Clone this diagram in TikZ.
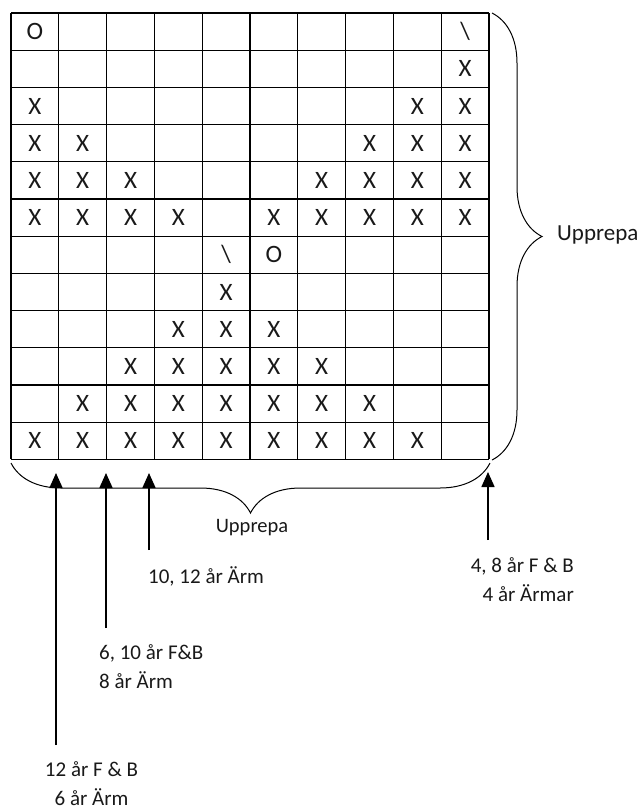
\documentclass[tikz,border=0pt]{standalone}
\usepackage{fontspec}
\setmainfont{Carlito}
\usepackage{tikz}
\usetikzlibrary{arrows.meta, decorations.pathreplacing}

\begin{document}
\begin{tikzpicture}[
    x=1pt, y=-1pt,
    gridline/.style={line width=1.3pt, color=black},
    cell/.style={inner sep=0pt, font=\fontsize{25}{25}\selectfont, text=black!90},
    note/.style={inner sep=0pt, font=\fontsize{21}{29}\selectfont, text=black!90},
    curly/.style={decorate, decoration={brace, amplitude=50pt}, line width=1pt},
    arrow/.style={-{Triangle[length=15pt, width=13pt]}, line width=1.6pt}
]
\useasboundingbox (0,0) rectangle (641,812);
\foreach \i in {0,...,10}
    \draw[gridline] (11+47.8*\i, 13) -- (11+47.8*\i, 459.4);
\foreach \j in {0,...,12}
    \draw[gridline] (11, 13+37.2*\j) -- (489, 13+37.2*\j);
\foreach \r/\cols in {2/{10}, 3/{1,9,10}, 4/{1,2,8,9,10}, 5/{1,2,3,7,8,9,10},
                      6/{1,2,3,4,6,7,8,9,10}, 8/{5}, 9/{4,5,6}, 10/{3,...,7},
                      11/{2,...,8}, 12/{1,...,9}}
    \foreach \c in \cols
        \node[cell] (x-\r-\c) at ({11+47.8*(\c-0.5)}, {13+37.2*(\r-0.5)}) {X};
\node[cell] (o-1) at (34.9, 31.6) {O};
\node[cell] (bs-1) at (465.1, 31.6) {\textbackslash};
\node[cell] (bs-7) at (226.1, 254.8) {\textbackslash};
\node[cell] (o-7) at (273.9, 254.8) {O};
\draw[curly] (492,13) -- (492,460);
\draw[curly] (490,463) -- (11,463);
\node[note, font=\fontsize{23}{27}\selectfont, anchor=base west] (rep1) at (557,240) {Upprepa};
\node[note, font=\fontsize{20.5}{25}\selectfont, anchor=base] (rep2) at (252,532) {Upprepa};
\node[note, anchor=base west] (l3) at (148,583) {10, 12 år Ärm};
\node[note, align=left, anchor=base west] (l2) at (99,688) {6, 10 år F\&B\\8 år Ärm};
\node[note, align=center, anchor=base] (l1) at (91.5,805) {12 år F \& B\\6 år Ärm};
\node[note, align=right, anchor=base east] (l4) at (574,601) {4, 8 år F \& B\\4 år Ärmar};
\coordinate (t1) at (56,473);
\coordinate (t2) at (106,473);
\coordinate (t3) at (149,473);
\coordinate (t4) at (488,472);
\coordinate (b1) at (56,745);
\coordinate (b2) at (106,628);
\coordinate (b3) at (149,550);
\coordinate (b4) at (488,540);
\draw[arrow] (b1) -- (t1);
\draw[arrow] (b2) -- (t2);
\draw[arrow] (b3) -- (t3);
\draw[arrow] (b4) -- (t4);
\end{tikzpicture}
\end{document}
